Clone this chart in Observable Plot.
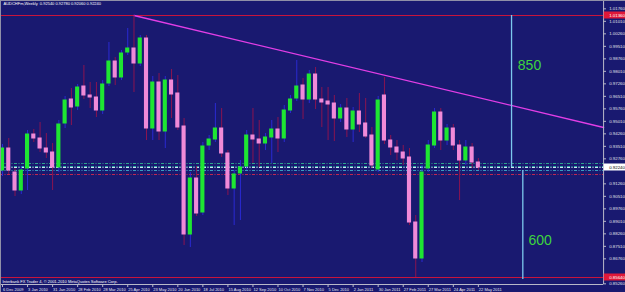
<!DOCTYPE html>
<html><head><meta charset="utf-8">
<script src="https://cdn.jsdelivr.net/npm/d3@7"></script>
<script src="https://cdn.jsdelivr.net/npm/@observablehq/plot@0.6"></script>
<style>html,body{margin:0;padding:0;background:#191970;overflow:hidden}</style>
</head><body><div id="chart"></div>
<script>
// Weekly AUDCHF candles, 6 Dec 2009 .. 22 May 2011 (week index 0..76)
const opens  = [0.9206,0.9338,0.9194,0.9086,0.9218,0.9422,0.9398,0.9338,0.9314,0.9224,0.9488,0.9632,0.9590,0.9710,0.9656,0.9644,0.9566,0.9728,0.9860,0.9764,0.9914,0.9938,0.9848,0.9998,0.9458,0.9734,0.9440,0.9746,0.9668,0.9470,0.8822,0.9158,0.8954,0.9356,0.9392,0.9458,0.9308,0.9098,0.9188,0.9230,0.9416,0.9392,0.9368,0.9404,0.9452,0.9398,0.9566,0.9638,0.9716,0.9632,0.9782,0.9632,0.9620,0.9608,0.9518,0.9578,0.9452,0.9560,0.9488,0.9416,0.9212,0.9656,0.9386,0.9344,0.9314,0.9284,0.8894,0.8678,0.9218,0.9356,0.9554,0.9386,0.9458,0.9356,0.9266,0.9344,0.9254];
const highs  = [0.9362,0.9398,0.9218,0.9230,0.9446,0.9452,0.9494,0.9428,0.9368,0.9506,0.9650,0.9698,0.9722,0.9836,0.9734,0.9734,0.9746,0.9974,0.9884,0.9926,1.0058,1.0136,1.0016,1.0016,0.9770,0.9788,0.9770,0.9812,0.9776,0.9518,0.9194,0.9230,0.9374,0.9416,0.9608,0.9578,0.9326,0.9206,0.9266,0.9446,0.9578,0.9506,0.9428,0.9506,0.9524,0.9596,0.9656,0.9866,0.9758,0.9806,0.9824,0.9704,0.9704,0.9656,0.9602,0.9638,0.9584,0.9668,0.9638,0.9464,0.9650,0.9764,0.9416,0.9386,0.9356,0.9338,0.8936,0.9236,0.9386,0.9578,0.9578,0.9482,0.9482,0.9386,0.9386,0.9368,0.9278];
const lows   = [0.9170,0.9182,0.9050,0.9062,0.9086,0.9374,0.9314,0.9278,0.9086,0.9194,0.9458,0.9476,0.9566,0.9632,0.9578,0.9524,0.9542,0.9710,0.9716,0.9746,0.9896,0.9674,0.9830,0.9386,0.9386,0.9386,0.9338,0.9518,0.9446,0.8756,0.8744,0.8930,0.8936,0.9326,0.9374,0.9284,0.9056,0.8876,0.8906,0.9206,0.9248,0.9224,0.9326,0.9248,0.9314,0.9374,0.9548,0.9620,0.9512,0.9608,0.9572,0.9464,0.9386,0.9380,0.9494,0.9404,0.9374,0.9434,0.9398,0.9218,0.9194,0.9362,0.9296,0.9266,0.9236,0.8876,0.8564,0.8654,0.9194,0.9338,0.9326,0.9356,0.9326,0.9026,0.9236,0.9218,0.9206];
const closes = [0.9338,0.9206,0.9086,0.9206,0.9422,0.9398,0.9338,0.9314,0.9224,0.9482,0.9626,0.9584,0.9704,0.9656,0.9644,0.9566,0.9722,0.9860,0.9764,0.9908,0.9938,0.9848,0.9998,0.9458,0.9734,0.9440,0.9746,0.9662,0.9464,0.8822,0.9158,0.8948,0.9350,0.9392,0.9458,0.9308,0.9098,0.9182,0.9224,0.9416,0.9392,0.9368,0.9404,0.9452,0.9398,0.9566,0.9632,0.9710,0.9632,0.9782,0.9632,0.9614,0.9602,0.9518,0.9578,0.9452,0.9560,0.9482,0.9410,0.9236,0.9626,0.9386,0.9344,0.9314,0.9278,0.8894,0.8678,0.9194,0.9356,0.9554,0.9386,0.9458,0.9356,0.9266,0.9344,0.9254,0.9224];

const dateTickWeeks = [0,4,8,12,16,20,24,28,32,36,40,44,48,52,56,60,64,68,72,76];
const dateTickLabels = ["6 Dec 2009","3 Jan 2010","31 Jan 2010","28 Feb 2010","28 Mar 2010","25 Apr 2010","23 May 2010","20 Jun 2010","18 Jul 2010","15 Aug 2010","12 Sep 2010","10 Oct 2010","7 Nov 2010","5 Dec 2010","2 Jan 2011","30 Jan 2011","27 Feb 2011","27 Mar 2011","24 Apr 2011","22 May 2011"];
const priceTicks = [1.0176,1.0101,1.0026,0.9951,0.9876,0.9801,0.9726,0.9651,0.9576,0.9501,0.9426,0.9351,0.9276,0.9126,0.9051,0.8976,0.8901,0.8826,0.8751,0.8676,0.8526];

const hiLoLevels = [1.0136, 0.8564];
const currentPrice = 0.9224;
const levelPrices = [0.9248, 0.9230, 0.9224, 0.9206, 0.9182];
const levelColors = ["#2fa58e", "#2fa8a8", "#d0e8ee", "#3a9cc0", "#c02850"];
const trendWeeks = [21, 96];
const trendPrices = [1.0136, 0.9464];
const rangeWeeks = [81.3, 83.1];
const rangeTop = [1.0136, 0.9206];
const rangeBottom = [0.9224, 0.8552];
const rangeNoteWeeks = [82.3, 84.0];
const rangeNotePrices = [0.9836, 0.8786];
const rangeNoteTexts = ["850", "600"];

const titleText = "AUDCHFm,Weekly  0.92540 0.92780 0.92060 0.92240";
const footerText = "Interbank FX Trader 4, \u00a9 2001-2010 MetaQuotes Software Corp.";

const xDomain = [-0.32, 99.5];
const chartEnd = 96;
const yDomain = [0.8474, 1.0226];

const candles = opens.map((o, i) => ({i, open: o, high: highs[i], low: lows[i], close: closes[i], up: closes[i] >= o}));
const levels = levelPrices.map((p, k) => ({p, c: levelColors[k]}));
const trend = trendWeeks.map((w, k) => ({w, p: trendPrices[k]}));
const ranges = rangeWeeks.map((w, k) => ({w, y1: rangeTop[k], y2: rangeBottom[k]}));
const notes = rangeNoteWeeks.map((w, k) => ({w, p: rangeNotePrices[k], t: rangeNoteTexts[k]}));
const dateTicks = dateTickWeeks.map((w, k) => ({w, t: dateTickLabels[k]}));

const axisLine = "#b8b8c8";

const chart = Plot.plot({
  width: 625, height: 292,
  marginTop: 0, marginRight: 0, marginBottom: 0, marginLeft: 0,
  x: {type: "linear", domain: xDomain, axis: null},
  y: {type: "linear", domain: yDomain, axis: null},
  style: {background: "#191970", color: "#ffffff", fontFamily: "'Liberation Sans', Arial, sans-serif"},
  marks: [
    Plot.ruleY(hiLoLevels, {y: d => d, x1: xDomain[0], x2: chartEnd, stroke: "#c8143c", strokeWidth: 1}),
    Plot.ruleY(levels, {y: "p", x1: xDomain[0], x2: chartEnd, stroke: "c", strokeDasharray: "3,1.5,1,1.5", strokeWidth: 1}),
    Plot.line(trend, {x: "w", y: "p", stroke: "#e23ee6", strokeWidth: 1.3}),
    Plot.ruleX(ranges, {x: "w", y1: "y1", y2: "y2", stroke: "#7cc8ee", strokeWidth: 1.3}),
    Plot.text(notes, {x: "w", y: "p", text: "t", fill: "#3ed43e", fontSize: 14, textAnchor: "start"}),
    Plot.ruleX(candles, {x: "i", y1: "low", y2: "high", stroke: d => d.up ? "#2a2ad2" : "#8a1450", strokeWidth: 1}),
    Plot.rect(candles, {x1: d => d.i - 0.33, x2: d => d.i + 0.33, y1: "open", y2: "close",
      fill: d => d.up ? "#1ee632" : "#f08ad8", insetTop: -0.5, insetBottom: -0.5}),
    Plot.ruleX([chartEnd], {stroke: axisLine, insetBottom: 8}),
    Plot.ruleY([yDomain[0]], {stroke: axisLine, x1: xDomain[0], x2: chartEnd, dy: -8}),
    Plot.tickX(dateTicks, {x: "w", stroke: axisLine, insetTop: 284, insetBottom: 5}),
    Plot.text(dateTicks, {x: "w", text: "t", frameAnchor: "bottom", lineAnchor: "bottom", textAnchor: "start", dx: 0.5, dy: -2, fontSize: 4, fill: "#e8e8f0"}),
    Plot.tickY(priceTicks, {y: d => d, stroke: axisLine, insetLeft: 603, insetRight: 19}),
    Plot.text(priceTicks, {y: d => d, text: d => d.toFixed(5), frameAnchor: "right", textAnchor: "end", dx: -0.5, fontSize: 4.4, fill: "#e0e0e8"}),
    Plot.rect(hiLoLevels, {x1: chartEnd + 0.1, x2: xDomain[1], y1: d => d, y2: d => d, insetTop: -3.5, insetBottom: -3.5, fill: "#e01838"}),
    Plot.text(hiLoLevels, {y: d => d, text: d => d.toFixed(5), frameAnchor: "right", textAnchor: "end", dx: -0.5, fontSize: 4.4, fill: "#ffffff"}),
    Plot.rect([currentPrice], {x1: chartEnd + 0.1, x2: xDomain[1], y1: d => d, y2: d => d, insetTop: -3.5, insetBottom: -3.5, fill: "#ffffff"}),
    Plot.text([currentPrice], {y: d => d, text: d => d.toFixed(5), frameAnchor: "right", textAnchor: "end", dx: -0.5, fontSize: 4.4, fill: "#000000"}),
    Plot.text([titleText], {frameAnchor: "top-left", dx: 3, dy: 2, text: d => d, fontSize: 4, fill: "#ffffff"}),
    Plot.text([footerText], {frameAnchor: "bottom-left", dx: 2, dy: -9.5, text: d => d, fontSize: 4, fill: "#ffffff"}),
    Plot.frame({stroke: "#9090a8", strokeWidth: 1})
  ]
});
document.getElementById("chart").appendChild(chart);
</script>
</body></html>
